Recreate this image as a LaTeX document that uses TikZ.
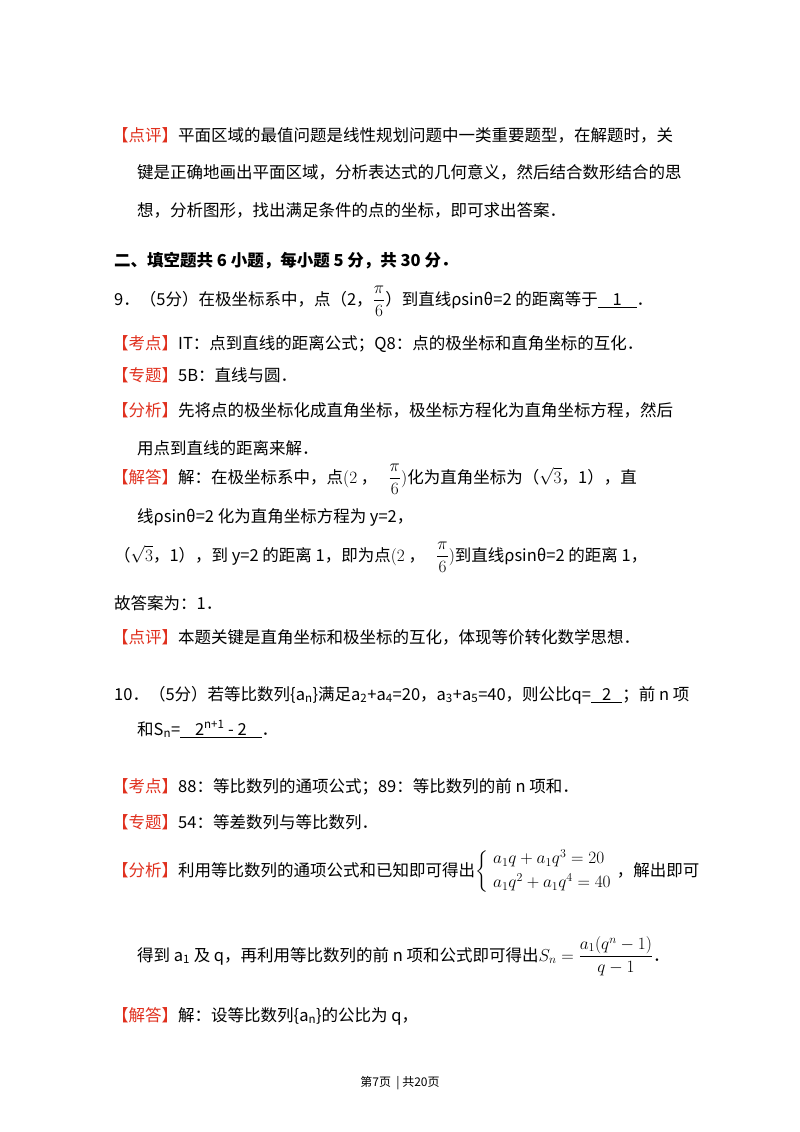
\documentclass[tikz,border=0pt]{standalone}
\usepackage{amsmath}
\usepackage{fontspec}
\setmainfont{Noto Sans CJK SC}
\definecolor{tagred}{HTML}{E0301E}
\newcommand{\tg}[1]{\textcolor{tagred}{【#1】}}
\begin{document}
\begin{tikzpicture}[x=1pt,y=-1pt,
  ln/.style={anchor=base west,inner sep=0pt,font=\fontsize{16.5}{20}\selectfont}]
\useasboundingbox[fill=white] (0,0) rectangle (800,1132);
\node[ln] (l1) at (112,141) {\tg{点评}平面区域的最值问题是线性规划问题中一类重要题型，在解题时，关};
\node[ln] (l2) at (137,178) {键是正确地画出平面区域，分析表达式的几何意义，然后结合数形结合的思};
\node[ln] (l3) at (137,216) {想，分析图形，找出满足条件的点的坐标，即可求出答案．};
\node[ln,font=\fontsize{16.5}{20}\selectfont\bfseries] (h) at (114,266) {二、填空题共 6 小题，每小题 5 分，共 30 分．};
\node[ln] (q9) at (114,305) {9．（5分）在极坐标系中，点（2，$\dfrac{\pi}{6}$）到直线ρsinθ=2 的距离等于\underline{\ \ \ \ 1\ \ \ \ }．};
\node[ln] (a1) at (112,349) {\tg{考点}IT：点到直线的距离公式；Q8：点的极坐标和直角坐标的互化．};
\node[ln] (a2) at (112,381) {\tg{专题}5B：直线与圆．};
\node[ln] (a3) at (112,416) {\tg{分析}先将点的极坐标化成直角坐标，极坐标方程化为直角坐标方程，然后};
\node[ln] (a4) at (137,454) {用点到直线的距离来解．};
\node[ln] (a5) at (112,483) {\tg{解答}解：在极坐标系中，点$(2$\ ，\ \ \ $\dfrac{\pi}{6})$化为直角坐标为（$\sqrt{3}$，1），直};
\node[ln] (a6) at (137,522) {线ρsinθ=2 化为直角坐标方程为 y=2，};
\node[ln] (a7) at (114,561) {（$\sqrt{3}$，1），到 y=2 的距离 1，即为点$(2$\ ，\ \ \ $\dfrac{\pi}{6})$到直线ρsinθ=2 的距离 1，};
\node[ln] (a8) at (114,609) {故答案为：1．};
\node[ln] (a9) at (112,643) {\tg{点评}本题关键是直角坐标和极坐标的互化，体现等价转化数学思想．};
\node[ln] (q10) at (114,700) {10．（5分）若等比数列\{a\textsubscript{n}\}满足a\textsubscript{2}+a\textsubscript{4}=20，a\textsubscript{3}+a\textsubscript{5}=40，则公比q=\underline{\ \ \ 2\ \ \ }；前 n 项};
\node[ln] (q10b) at (137,735) {和S\textsubscript{n}=\underline{\ \ \ \ 2\textsuperscript{n+1}\ -\ 2\ \ \ \ }．};
\node[ln] (b1) at (112,792) {\tg{考点}88：等比数列的通项公式；89：等比数列的前 n 项和．};
\node[ln] (b2) at (112,828) {\tg{专题}54：等差数列与等比数列．};
\node[ln] (b3) at (112,876) {\tg{分析}利用等比数列的通项公式和已知即可得出$\left\{\begin{array}{l}a_1q+a_1q^3=20\\[4pt] a_1q^2+a_1q^4=40\end{array}\right.$，解出即可};
\node[ln] (b4) at (137,961) {得到 a\textsubscript{1} 及 q，再利用等比数列的前 n 项和公式即可得出$S_n=\dfrac{a_1(q^n-1)}{q-1}$．};
\node[ln] (b5) at (112,1021) {\tg{解答}解：设等比数列\{a\textsubscript{n}\}的公比为 q，};
\node[font=\fontsize{12}{14}\selectfont,inner sep=0pt] (ft) at (400,1083) {第7页\ \ |\ 共20页};
\end{tikzpicture}
\end{document}
